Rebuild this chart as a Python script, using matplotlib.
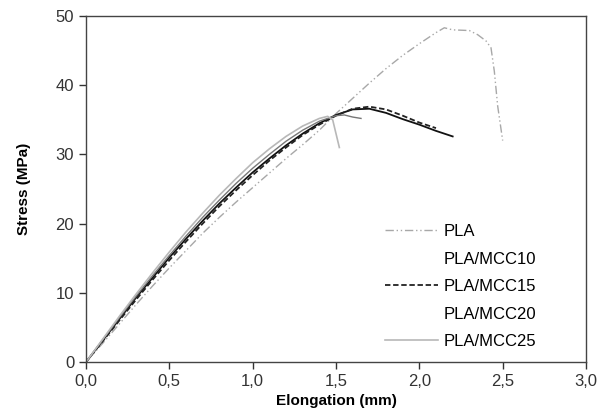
import matplotlib
matplotlib.use("Agg")
import matplotlib.pyplot as plt
from matplotlib.ticker import FuncFormatter

plt.rcParams['font.family'] = ['Liberation Sans', 'DejaVu Sans']

# PLA (gray dash-dot)
pla_x = [0, 0.1, 0.2, 0.3, 0.4, 0.5, 0.6, 0.7, 0.8, 0.9, 1.0, 1.1, 1.2, 1.3, 1.4,
         1.5, 1.6, 1.7, 1.8, 1.9, 2.0, 2.1, 2.15, 2.2, 2.3, 2.35, 2.4, 2.43,
         2.45, 2.47, 2.5]
pla_y = [0, 2.7, 5.5, 8.3, 11.0, 13.6, 16.1, 18.6, 20.9, 23.1, 25.2, 27.3, 29.4,
         31.4, 33.5, 35.9, 38.1, 40.3, 42.4, 44.3, 46.0, 47.6, 48.3, 48.0,
         47.9, 47.3, 46.4, 45.4, 42.0, 37.0, 32.0]

# PLA/MCC10 (solid black)
mcc10_x = [0, 0.1, 0.2, 0.3, 0.4, 0.5, 0.6, 0.7, 0.8, 0.9, 1.0, 1.1, 1.2, 1.3,
           1.4, 1.5, 1.6, 1.7, 1.8, 1.9, 2.0, 2.1, 2.2]
mcc10_y = [0, 3.1, 6.2, 9.3, 12.2, 15.1, 17.8, 20.4, 22.9, 25.2, 27.4, 29.4,
           31.3, 33.0, 34.5, 35.7, 36.5, 36.6, 36.0, 35.1, 34.3, 33.4, 32.6]

# PLA/MCC15 (dashed black)
mcc15_x = [0, 0.1, 0.2, 0.3, 0.4, 0.5, 0.6, 0.7, 0.8, 0.9, 1.0, 1.1, 1.2, 1.3,
           1.4, 1.5, 1.6, 1.7, 1.8, 1.9, 2.0, 2.1]
mcc15_y = [0, 3.0, 6.0, 9.0, 11.9, 14.7, 17.4, 20.0, 22.5, 24.8, 27.0, 29.1,
           31.0, 32.8, 34.3, 35.6, 36.6, 36.9, 36.5, 35.6, 34.6, 33.8]

# PLA/MCC20 (solid dark gray)
mcc20_x = [0, 0.1, 0.2, 0.3, 0.4, 0.5, 0.6, 0.7, 0.8, 0.9, 1.0, 1.1, 1.2, 1.3,
           1.4, 1.5, 1.55, 1.6, 1.65]
mcc20_y = [0, 3.2, 6.4, 9.5, 12.5, 15.4, 18.2, 20.9, 23.4, 25.8, 28.0, 30.0,
           31.9, 33.5, 34.8, 35.6, 35.7, 35.4, 35.2]

# PLA/MCC25 (light gray solid)
mcc25_x = [0, 0.1, 0.2, 0.3, 0.4, 0.5, 0.6, 0.7, 0.8, 0.9, 1.0, 1.1, 1.2, 1.3,
           1.4, 1.45, 1.48, 1.5, 1.52]
mcc25_y = [0, 3.3, 6.6, 9.8, 12.9, 15.9, 18.8, 21.5, 24.1, 26.5, 28.8, 30.8,
           32.6, 34.1, 35.2, 35.5, 35.0, 33.0, 31.0]

x_ticks = [0, 0.5, 1.0, 1.5, 2.0, 2.5, 3.0]
y_ticks = [0, 10, 20, 30, 40, 50]

fig = plt.figure(figsize=(5.99, 4.17), dpi=100)
ax = fig.add_axes([0.1436, 0.1319, 0.8347, 0.8297])

ax.plot(pla_x, pla_y, color="#a8a8a8", lw=1.0, linestyle=(0, (6, 2, 1, 2, 1, 2)), label="PLA")
ax.plot(mcc10_x, mcc10_y, color="#111111", lw=1.3, label="PLA/MCC10")
ax.plot(mcc15_x, mcc15_y, color="#222222", lw=1.3, linestyle=(0, (3, 1.5)), label="PLA/MCC15")
ax.plot(mcc20_x, mcc20_y, color="#777777", lw=1.0, label="PLA/MCC20")
ax.plot(mcc25_x, mcc25_y, color="#b8b8b8", lw=1.2, label="PLA/MCC25")

ax.set_xlim(0, 3.0)
ax.set_ylim(0, 50)
ax.set_xticks(x_ticks)
ax.set_yticks(y_ticks)
ax.xaxis.set_major_formatter(FuncFormatter(lambda v, p: f"{v:.1f}".replace(".", ",")))
ax.tick_params(direction="out", length=5, width=1, labelsize=12, colors="#333333")
for s in ax.spines.values():
    s.set_color("#444444")
    s.set_linewidth(1.0)

ax.set_xlabel("Elongation (mm)", fontsize=11, fontweight="bold", labelpad=4)
ax.set_ylabel("Stress (MPa)", fontsize=11, fontweight="bold", labelpad=18)

leg = ax.legend(loc="upper left", bbox_to_anchor=(0.598, 0.398), frameon=False,
                fontsize=12, borderpad=0, borderaxespad=0, handlelength=3.2,
                handletextpad=0.3, labelspacing=0.75)
# the legend lines for MCC10 and MCC20 are not visible in the original
leg.legend_handles[1].set_visible(False)
leg.legend_handles[3].set_visible(False)

fig.savefig("out.png", dpi=100)
